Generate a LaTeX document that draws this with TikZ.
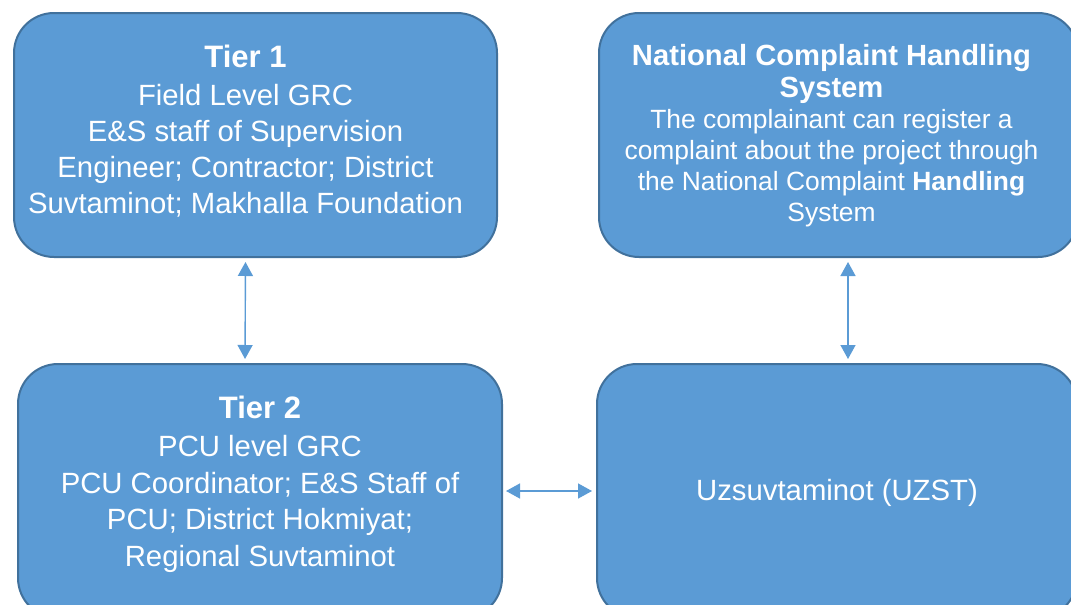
\documentclass[tikz,border=0pt]{standalone}
\usepackage{fontspec}
\setmainfont{Liberation Sans}
\usepackage{tikz}
\usetikzlibrary{shapes,arrows.meta}
\usepackage{color}
\definecolor{boxblue}{HTML}{5B9BD5}
\definecolor{boxline}{HTML}{41719C}

\begin{document}
\begin{tikzpicture}[x=1pt,y=-1pt,
    grcbox/.style={draw=boxline, fill=boxblue, line width=2pt, rounded corners=40pt,
      inner sep=0pt},
    boxtext/.style={text=white, align=center, inner sep=0pt},
    link/.style={{Triangle[width=15pt,length=14pt]}-{Triangle[width=15pt,length=14pt]},
      draw=boxblue, line width=1.4pt, shorten <=4pt, shorten >=4pt}]
  % frame
  \useasboundingbox (0,0) rectangle (1071,605);
  \clip (0,0) rectangle (1071,605);

  % boxes
  \node[grcbox, minimum width=483pt, minimum height=244pt] (tier1) at (255.5,135) {};
  \node[grcbox, minimum width=479pt, minimum height=244pt] (nchs) at (838.5,135) {};
  \node[grcbox, minimum width=484pt, minimum height=254pt] (tier2) at (260,491) {};
  \node[grcbox, minimum width=480pt, minimum height=254pt] (uzst) at (837,491) {};

  % texts
  \node[boxtext, font=\fontsize{29.3}{36}\selectfont] (tier1text)
    at ([shift={(-10,-3.5)}]tier1.center)
    {{\fontsize{31}{36}\selectfont\bfseries Tier 1}\\[2pt]
     Field Level GRC\\
     E\&S staff of Supervision\\
     Engineer; Contractor; District\\
     Suvtaminot; Makhalla Foundation};
  \node[boxtext, font=\fontsize{26.4}{31.2}\selectfont] (nchstext)
    at ([shift={(-7,1)}]nchs.center)
    {{\fontsize{29.2}{32}\selectfont\bfseries National Complaint Handling}\\
     {\fontsize{29.2}{32}\selectfont\bfseries System}\\
     The complainant can register a\\
     complaint about the project through\\
     the National Complaint \textbf{Handling}\\
     System};
  \node[boxtext, font=\fontsize{29.3}{36.5}\selectfont] (tier2text)
    at ([shift={(0,-6.5)}]tier2.center)
    {{\fontsize{31}{36.5}\selectfont\bfseries Tier 2}\\[1.5pt]
     PCU level GRC\\
     PCU Coordinator; E\&S Staff of\\
     PCU; District Hokmiyat;\\
     Regional Suvtaminot};
  \node[boxtext, font=\fontsize{29.3}{36.5}\selectfont] (uzsttext)
    at ([shift={(0,1.5)}]uzst.center)
    {Uzsuvtaminot (UZST)};

  % links
  \draw[link] ([xshift=-10pt]tier1.south) -- ([xshift=-15pt]tier2.north);
  \draw[link] ([xshift=9.5pt]nchs.south) -- ([xshift=11pt]uzst.north);
  \draw[link, shorten <=3pt] (tier2.east) -- (uzst.west);
\end{tikzpicture}
\end{document}
